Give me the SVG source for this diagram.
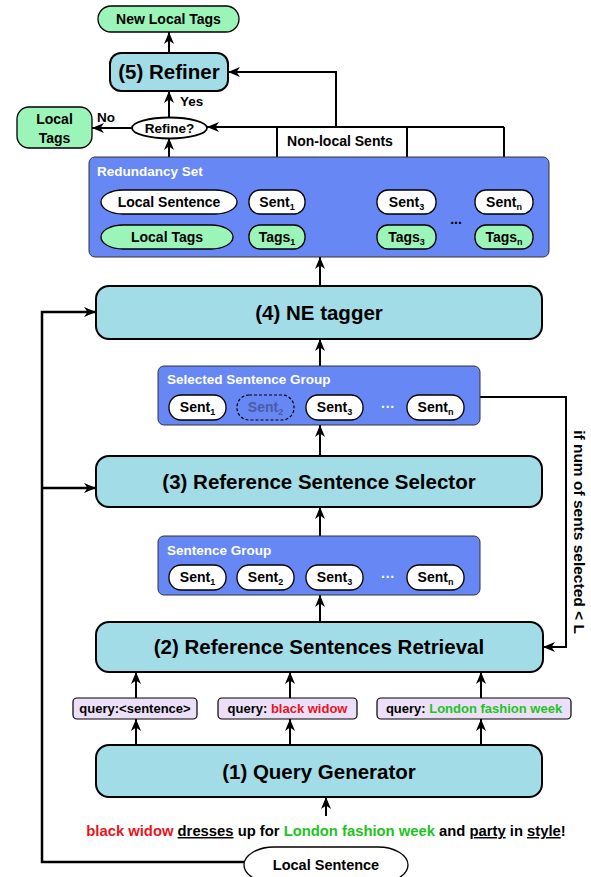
<svg xmlns="http://www.w3.org/2000/svg" width="591" height="877" viewBox="0 0 591 877">
<style>
text{font-family:"Liberation Sans",Arial,sans-serif;font-weight:bold;fill:#000}
.big{font-size:20.5px;text-anchor:middle}
.sm{font-size:14px;text-anchor:middle}
.q{font-size:13px;text-anchor:middle}
.lab{font-size:13.5px;fill:#fff}
.node{fill:#a2dce6;stroke:#000;stroke-width:2}
.grp{fill:#6787f5;stroke:#333;stroke-width:1}
.pw{fill:#fff;stroke:#000;stroke-width:1.3}
.pg{fill:#9cf5b8;stroke:#000;stroke-width:1.3}
.qb{fill:#ece0f8;stroke:#000;stroke-width:1.2}
.c{fill:none;stroke:#000;stroke-width:2}
.sub{font-size:9px}
</style>
<defs>
<marker id="ah" viewBox="0 0 12 10" refX="12" refY="5" markerWidth="12" markerHeight="10" orient="auto" markerUnits="userSpaceOnUse"><path d="M0,0 L12,5 L0,10 L3.5,5 z" fill="#000"/></marker>
</defs>

<g id="connectors">
<path class="c" d="M169,53 V32" marker-end="url(#ah)"/>
<path class="c" d="M169,118 V91" marker-end="url(#ah)"/>
<path class="c" d="M132,128 H92" marker-end="url(#ah)"/>
<path class="c" d="M169,190 V138" marker-end="url(#ah)"/>
<path class="c" d="M277,190 V127"/>
<path class="c" d="M407,190 V127"/>
<path class="c" d="M504,190 V127"/>
<path class="c" d="M504,127 H207" marker-end="url(#ah)"/>
<path class="c" d="M336,127 V72 H228" marker-end="url(#ah)"/>
<path class="c" d="M320,286 V257" marker-end="url(#ah)"/>
<path class="c" d="M320,366 V339" marker-end="url(#ah)"/>
<path class="c" d="M320,456 V425" marker-end="url(#ah)"/>
<path class="c" d="M320,536 V507" marker-end="url(#ah)"/>
<path class="c" d="M320,622 V595" marker-end="url(#ah)"/>
<path class="c" d="M480,397 H566 V647 H543" marker-end="url(#ah)"/>
<path class="c" d="M136,698 V672" marker-end="url(#ah)"/>
<path class="c" d="M290,698 V672" marker-end="url(#ah)"/>
<path class="c" d="M481,698 V672" marker-end="url(#ah)"/>
<path class="c" d="M136,745 V719" marker-end="url(#ah)"/>
<path class="c" d="M290,745 V719" marker-end="url(#ah)"/>
<path class="c" d="M481,745 V719" marker-end="url(#ah)"/>
<path class="c" d="M326,816 V797" marker-end="url(#ah)"/>
<path class="c" style="stroke-width:2.5" d="M244,862 H42 V312 H96" marker-end="url(#ah)"/>
<path class="c" style="stroke-width:2.5" d="M42,488 H96" marker-end="url(#ah)"/>
<text x="180" y="106" style="font-size:13.5px">Yes</text>
<text x="97" y="122" style="font-size:13.5px">No</text>
<text x="340" y="146" class="sm">Non-local Sents</text>
<text class="sm" style="font-size:15.5px" transform="translate(574,532) rotate(90)">if num of sents selected &lt; L</text>
</g>

<g id="new-local-tags">
<rect class="pg" x="98" y="6" width="141" height="26" rx="13"/>
<text x="168.5" y="24" class="sm">New Local Tags</text>
</g>

<g id="refiner">
<rect class="node" x="110" y="53" width="118" height="38" rx="11"/>
<text x="169" y="79" class="big">(5) Refiner</text>
</g>

<g id="refine-decision">
<ellipse cx="169.5" cy="128" rx="37.5" ry="10.5" fill="#fff" stroke="#000" stroke-width="1.8"/>
<text x="169.5" y="133" class="sm" style="font-size:13.5px">Refine?</text>
</g>

<g id="local-tags-out">
<rect class="pg" x="17" y="107" width="75" height="41" rx="12"/>
<text x="54.5" y="124" class="sm">Local</text>
<text x="54.5" y="143" class="sm">Tags</text>
</g>

<g id="redundancy-set">
<rect class="grp" x="89" y="157" width="460" height="100" rx="6"/>
<text x="97" y="176" class="lab">Redundancy Set</text>
<rect class="pw" x="101" y="190" width="136" height="24" rx="22" ry="12"/>
<text x="169" y="207" class="sm">Local Sentence</text>
<rect class="pg" x="101" y="225" width="132" height="24" rx="22" ry="12"/>
<text x="167" y="242" class="sm">Local Tags</text>
<rect class="pw" x="249" y="190" width="56" height="24" rx="11"/>
<text x="277" y="207" class="sm">Sent<tspan class="sub" dy="3">1</tspan></text>
<rect class="pg" x="249" y="225" width="56" height="24" rx="11"/>
<text x="277" y="242" class="sm">Tags<tspan class="sub" dy="3">1</tspan></text>
<rect class="pw" x="377" y="190" width="59" height="24" rx="11"/>
<text x="406.5" y="207" class="sm">Sent<tspan class="sub" dy="3">3</tspan></text>
<rect class="pg" x="377" y="225" width="59" height="24" rx="11"/>
<text x="406.5" y="242" class="sm">Tags<tspan class="sub" dy="3">3</tspan></text>
<text x="456" y="224" class="sm">...</text>
<rect class="pw" x="475" y="190" width="58" height="24" rx="11"/>
<text x="504" y="207" class="sm">Sent<tspan class="sub" dy="3">n</tspan></text>
<rect class="pg" x="475" y="225" width="58" height="24" rx="11"/>
<text x="504" y="242" class="sm">Tags<tspan class="sub" dy="3">n</tspan></text>
</g>

<g id="ne-tagger">
<rect class="node" x="96" y="286" width="446" height="53" rx="13"/>
<text x="319" y="320" class="big">(4) NE tagger</text>
</g>

<g id="selected-sentence-group">
<rect class="grp" x="158" y="366" width="322" height="59" rx="6"/>
<text x="167" y="384" class="lab">Selected Sentence Group</text>
<rect class="pw" x="169" y="395" width="57" height="25" rx="12"/>
<text x="197.5" y="412" class="sm">Sent<tspan class="sub" dy="3">1</tspan></text>
<rect x="237" y="395" width="57" height="25" rx="12" fill="none" stroke="#000" stroke-width="1.2" stroke-dasharray="3,2"/>
<text x="265.5" y="412" class="sm" style="fill:#4a5ca6">Sent<tspan class="sub" dy="3">2</tspan></text>
<rect class="pw" x="306" y="395" width="57" height="25" rx="12"/>
<text x="334.5" y="412" class="sm">Sent<tspan class="sub" dy="3">3</tspan></text>
<text x="388" y="412" class="sm" style="fill:#fff">···</text>
<rect class="pw" x="407" y="395" width="57" height="25" rx="12"/>
<text x="435.5" y="412" class="sm">Sent<tspan class="sub" dy="3">n</tspan></text>
</g>

<g id="reference-sentence-selector">
<rect class="node" x="96" y="456" width="446" height="51" rx="13"/>
<text x="319" y="489" class="big">(3) Reference Sentence Selector</text>
</g>

<g id="sentence-group">
<rect class="grp" x="158" y="536" width="322" height="59" rx="6"/>
<text x="167" y="555" class="lab">Sentence Group</text>
<rect class="pw" x="169" y="565" width="57" height="25" rx="12"/>
<text x="197.5" y="582" class="sm">Sent<tspan class="sub" dy="3">1</tspan></text>
<rect class="pw" x="237" y="565" width="57" height="25" rx="12"/>
<text x="265.5" y="582" class="sm">Sent<tspan class="sub" dy="3">2</tspan></text>
<rect class="pw" x="306" y="565" width="57" height="25" rx="12"/>
<text x="334.5" y="582" class="sm">Sent<tspan class="sub" dy="3">3</tspan></text>
<text x="388" y="582" class="sm" style="fill:#fff">···</text>
<rect class="pw" x="407" y="565" width="57" height="25" rx="12"/>
<text x="435.5" y="582" class="sm">Sent<tspan class="sub" dy="3">n</tspan></text>
</g>

<g id="reference-sentences-retrieval">
<rect class="node" x="96" y="622" width="447" height="50" rx="13"/>
<text x="319" y="654" class="big">(2) Reference Sentences Retrieval</text>
</g>

<g id="query-1">
<rect class="qb" x="73" y="698" width="124" height="21" rx="4"/>
<text x="135" y="713" class="q">query:&lt;sentence&gt;</text>
</g>
<g id="query-2">
<rect class="qb" x="218" y="698" width="139" height="21" rx="4"/>
<text x="287.5" y="713" class="q">query: <tspan style="fill:#e8141c">black widow</tspan></text>
</g>
<g id="query-3">
<rect class="qb" x="377" y="698" width="194" height="21" rx="4"/>
<text x="474" y="713" class="q">query: <tspan style="fill:#1ec31e">London fashion week</tspan></text>
</g>

<g id="query-generator">
<rect class="node" x="96" y="745" width="446" height="52" rx="13"/>
<text x="319" y="779" class="big">(1) Query Generator</text>
</g>

<g id="input-sentence">
<text x="326" y="836" style="font-size:14.8px;text-anchor:middle"><tspan style="fill:#e8141c">black widow</tspan> <tspan text-decoration="underline">dresses</tspan> up for <tspan style="fill:#1ec31e">London fashion week</tspan> and <tspan text-decoration="underline">party</tspan> in <tspan text-decoration="underline">style</tspan>!</text>
</g>

<g id="local-sentence-bottom">
<rect class="pw" x="244" y="847" width="164" height="36" rx="30" ry="18"/>
<text x="326" y="870" class="sm" style="font-size:14.5px">Local Sentence</text>
</g>
</svg>
